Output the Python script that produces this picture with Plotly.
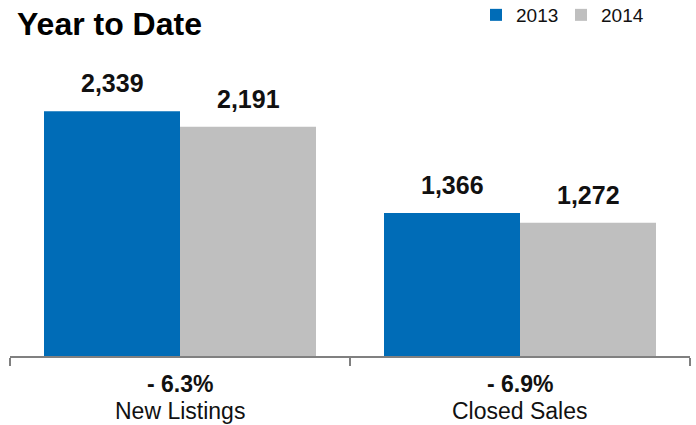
import plotly.graph_objects as go

categories = ["New Listings", "Closed Sales"]
values_2013 = [2339, 1366]
values_2014 = [2191, 1272]
pct_change = ["- 6.3%", "- 6.9%"]
series_names = ["2013", "2014"]

FONT = "Liberation Sans, Arial, Helvetica"
BAR_HALF_PX = 68  # half of one bar's width in pixels (group offset)

fig = go.Figure()
for i, (name, vals, color) in enumerate([(series_names[0], values_2013, "#006cb7"),
                                         (series_names[1], values_2014, "#bfbfbf")]):
    fig.add_bar(x=categories, y=vals, name=name, marker_color=color, marker_line_width=0,
                hoverinfo="x+y+name")
    shift = -BAR_HALF_PX if i == 0 else BAR_HALF_PX
    for c, v in zip(categories, vals):
        fig.add_annotation(x=c, y=v, xref="x", yref="y", xshift=shift, yshift=12,
                           yanchor="bottom", text=f"<b>{v:,}</b>", showarrow=False,
                           font=dict(size=25, color="#111", family=FONT))

for c, p in zip(categories, pct_change):
    fig.add_annotation(x=c, y=0, xref="x", yref="paper", yanchor="top", yshift=-13,
                       text=f"<b>{p}</b>", showarrow=False,
                       font=dict(size=23, color="#111", family=FONT))
    fig.add_annotation(x=c, y=0, xref="x", yref="paper", yanchor="top", yshift=-40,
                       text=c, showarrow=False,
                       font=dict(size=23, color="#111", family=FONT))

fig.add_annotation(x=0, y=1, xref="paper", yref="paper", xanchor="left", yanchor="middle",
                   xshift=5, yshift=18, text="<b>Year to Date</b>", showarrow=False,
                   font=dict(size=32, color="#000", family=FONT))

fig.update_layout(
    width=696, height=425,
    margin=dict(l=10, r=6, t=42, b=69),
    paper_bgcolor="white", plot_bgcolor="white",
    barmode="group", bargap=0.2, bargroupgap=0,
    showlegend=True,
    legend=dict(orientation="h", xref="container", yref="container",
                x=476 / 696, xanchor="left", y=1 - 15 / 425, yanchor="middle",
                font=dict(size=19, color="#111", family=FONT),
                entrywidth=40, entrywidthmode="pixels",
                traceorder="normal", itemsizing="constant"),
    xaxis=dict(showticklabels=False, showline=True, linecolor="#808080", linewidth=2,
               ticks="outside", tickson="boundaries", ticklen=8, tickcolor="#808080", tickwidth=2,
               showgrid=False),
    yaxis=dict(range=[0, 3000], visible=False, showgrid=False),
)

fig.write_html("out.html", config={"displayModeBar": False},
               post_script="document.body.style.margin='0';")
